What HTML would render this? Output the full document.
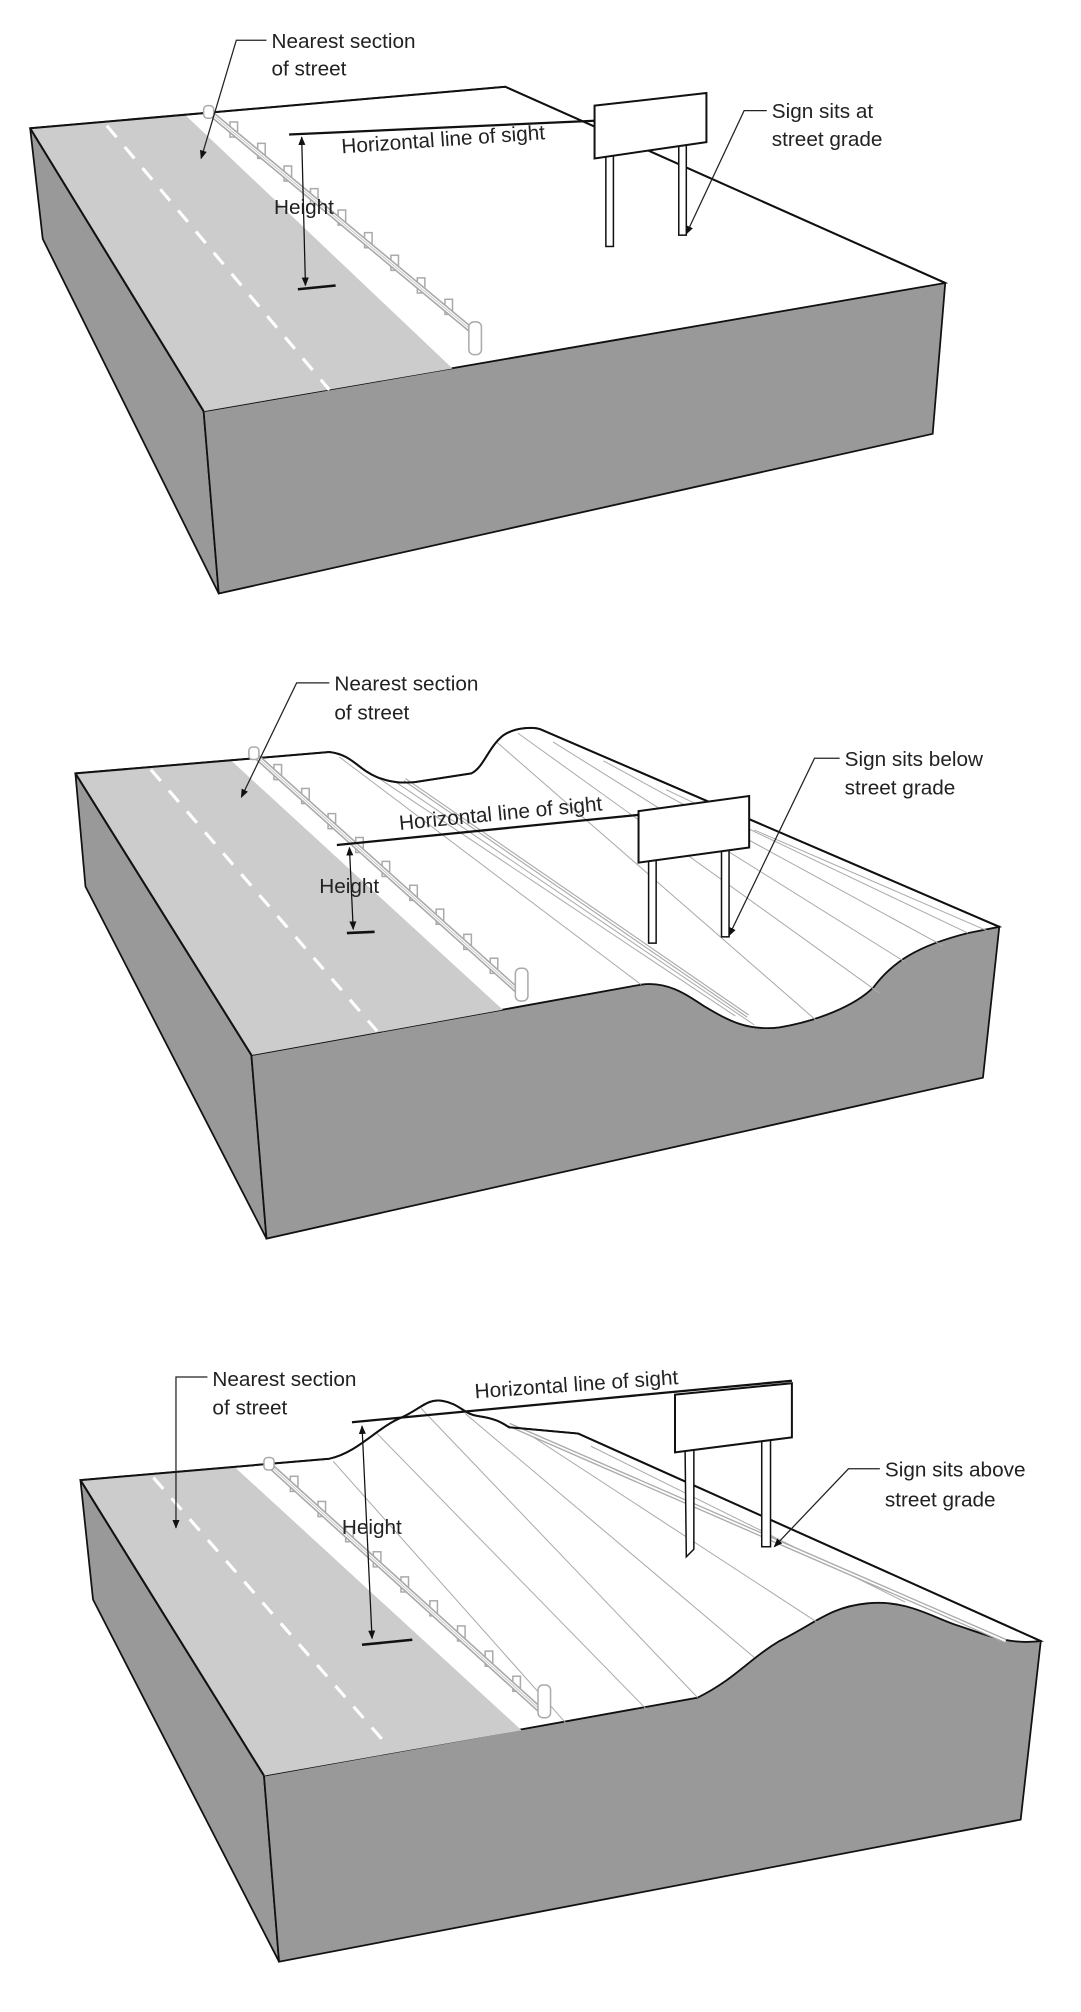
<!DOCTYPE html>
<html><head><meta charset="utf-8"><style>
html,body{margin:0;padding:0;background:#fff;}
svg{display:block}
text{font-family:"Liberation Sans",sans-serif;font-size:16.5px;fill:#222}
.e{stroke:#111;stroke-width:1.6;fill:none}
.f{stroke:#111;stroke-width:1.4}
.rail{stroke:#aaa;stroke-width:5;stroke-linecap:round}
.rail2{stroke:#fff;stroke-width:2.4}
.rail3{stroke:#bbb;stroke-width:.6}
.post{fill:#fff;stroke:#aaa;stroke-width:1.2}
.slope{stroke:#aaa;stroke-width:.8;fill:none}
.lead{stroke:#222;stroke-width:1;fill:none}
</style></head><body>
<svg width="1081" height="2012" viewBox="0 0 860 1600" preserveAspectRatio="none" xmlns="http://www.w3.org/2000/svg">
<defs>
<marker id="a" viewBox="0 0 10 10" refX="9" refY="5" markerWidth="7" markerHeight="7" orient="auto-start-reverse"><path d="M0,1 L10,5 L0,9 z" fill="#111"/></marker>
</defs>

<!-- ===== BLOCK 1 ===== -->
<polygon points="24,102 34,190 174,472 162,327" fill="#999" class="f"/>
<polygon points="162,327 752,225 742,345 174,472" fill="#999" class="f"/>
<polygon points="24,102 402,69 752,225 162,327" fill="#fff" class="f"/>
<polygon points="24,102 148,92 360,293 162,327" fill="#ccc"/>
<line x1="85" y1="100" x2="262" y2="310" stroke="#fff" stroke-width="2.5" stroke-dasharray="12,10"/>
<polyline points="24,102 402,69 752,225" class="e"/>
<line x1="24" y1="102" x2="162" y2="327" class="e"/>
<g>
<rect x="183" y="97" width="6" height="12" class="post"/><rect x="205" y="114" width="6" height="12" class="post"/><rect x="226" y="132" width="6" height="12" class="post"/><rect x="247" y="150" width="6" height="12" class="post"/><rect x="269" y="167" width="6" height="12" class="post"/><rect x="290" y="185" width="6" height="12" class="post"/><rect x="311" y="203" width="6" height="12" class="post"/><rect x="332" y="221" width="6" height="12" class="post"/><rect x="354" y="238" width="6" height="12" class="post"/>
<line x1="165" y1="88" x2="378" y2="265" class="rail"/><line x1="165" y1="88" x2="378" y2="265" class="rail2"/><line x1="165" y1="88" x2="378" y2="265" class="rail3"/>
<rect x="373" y="256" width="10" height="26" rx="4" class="post"/>
<rect x="162" y="84" width="8" height="10" rx="3" class="post"/>
</g>
<line x1="230" y1="107" x2="473" y2="96" stroke="#111" stroke-width="1.8"/>
<line x1="240" y1="109" x2="243" y2="227" stroke="#111" stroke-width="1" marker-start="url(#a)" marker-end="url(#a)"/>
<line x1="237" y1="230" x2="267" y2="227" stroke="#111" stroke-width="2"/>
<text x="218" y="170">Height</text>
<text x="272" y="122" transform="rotate(-4 272 122)">Horizontal line of sight</text>
<rect x="482" y="120" width="6" height="76" fill="#fff" stroke="#111" stroke-width="1.2"/>
<rect x="540" y="112" width="6" height="75" fill="#fff" stroke="#111" stroke-width="1.2"/>
<polygon points="473,84 562,74 562,113 473,126" fill="#fff" stroke="#111" stroke-width="1.6"/>
<text x="216" y="38">Nearest section</text><text x="216" y="60">of street</text>
<polyline points="212,32 188,32 160,126" class="lead" marker-end="url(#a)"/>
<text x="614" y="94">Sign sits at</text><text x="614" y="116">street grade</text>
<polyline points="610,88 592,88 546,186" class="lead" marker-end="url(#a)"/>

<!-- ===== BLOCK 2 ===== -->
<polygon points="60,615 68,705 212,985 200,839" fill="#999" class="f"/>
<path d="M200,839 L510,783 C530,780 545,790 560,800 C580,812 595,820 620,817 C650,812 680,800 695,785 C710,765 730,752 770,742 L795,737 L782,857 L212,985 Z" fill="#999" class="f"/>
<path d="M60,615 L262,598 C280,600 285,612 300,618 C315,624 325,622 330,622 L375,615 C385,610 388,595 400,585 C410,578 425,578 430,580 L795,737 L770,742 C730,752 710,765 695,785 C680,800 650,812 620,817 C595,820 580,812 560,800 C545,790 530,780 510,783 L200,839 Z" fill="#fff" class="f"/>
<polygon points="60,615 183,604 400,803 200,839" fill="#ccc"/>
<line x1="120" y1="612" x2="300" y2="820" stroke="#fff" stroke-width="2.5" stroke-dasharray="12,10"/>
<g class="slope">
<line x1="270" y1="602" x2="510" y2="783"/>
<line x1="300" y1="618" x2="585" y2="808"/>
<line x1="315" y1="622" x2="600" y2="815"/>
<line x1="395" y1="590" x2="650" y2="812"/>
<line x1="412" y1="583" x2="700" y2="790"/>
<line x1="440" y1="590" x2="720" y2="765"/>
<line x1="480" y1="605" x2="750" y2="752"/>
<line x1="530" y1="628" x2="770" y2="742"/>
<line x1="600" y1="660" x2="785" y2="740"/>
</g>
<line x1="322" y1="620" x2="595" y2="808" stroke="#aaa" stroke-width="3"/>
<line x1="322" y1="620" x2="595" y2="808" stroke="#fff" stroke-width="1.2"/>
<path d="M60,615 L262,598 C280,600 285,612 300,618 C315,624 325,622 330,622 L375,615 C385,610 388,595 400,585 C410,578 425,578 430,580 L795,737" class="e"/>
<line x1="60" y1="615" x2="200" y2="839" class="e"/>
<g>
<rect x="218" y="608" width="6" height="12" class="post"/><rect x="240" y="627" width="6" height="12" class="post"/><rect x="261" y="647" width="6" height="12" class="post"/><rect x="283" y="666" width="6" height="12" class="post"/><rect x="304" y="685" width="6" height="12" class="post"/><rect x="326" y="704" width="6" height="12" class="post"/><rect x="347" y="723" width="6" height="12" class="post"/><rect x="369" y="743" width="6" height="12" class="post"/><rect x="390" y="762" width="6" height="12" class="post"/>
<line x1="200" y1="598" x2="412" y2="788" class="rail"/><line x1="200" y1="598" x2="412" y2="788" class="rail2"/><line x1="200" y1="598" x2="412" y2="788" class="rail3"/>
<rect x="410" y="770" width="10" height="26" rx="4" class="post"/>
<rect x="198" y="594" width="8" height="10" rx="3" class="post"/>
</g>
<line x1="268" y1="672" x2="508" y2="648" stroke="#111" stroke-width="1.8"/>
<line x1="278" y1="674" x2="281" y2="739" stroke="#111" stroke-width="1" marker-start="url(#a)" marker-end="url(#a)"/>
<line x1="276" y1="742" x2="298" y2="741" stroke="#111" stroke-width="2"/>
<text x="254" y="710">Height</text>
<text x="318" y="660" transform="rotate(-5.5 318 660)">Horizontal line of sight</text>
<rect x="516" y="680" width="6" height="70" fill="#fff" stroke="#111" stroke-width="1.2"/>
<rect x="574" y="670" width="6" height="75" fill="#fff" stroke="#111" stroke-width="1.2"/>
<polygon points="508,645 596,633 596,674 508,686" fill="#fff" stroke="#111" stroke-width="1.6"/>
<text x="266" y="549">Nearest section</text><text x="266" y="572">of street</text>
<polyline points="262,543 236,543 192,634" class="lead" marker-end="url(#a)"/>
<text x="672" y="609">Sign sits below</text><text x="672" y="632">street grade</text>
<polyline points="668,603 648,603 580,744" class="lead" marker-end="url(#a)"/>

<!-- ===== BLOCK 3 ===== -->
<polygon points="64,1177 74,1272 222,1560 210,1412" fill="#999" class="f"/>
<path d="M210,1412 L555,1350 C585,1335 595,1320 620,1305 C650,1290 660,1278 690,1275 C720,1272 740,1285 760,1292 C785,1300 800,1308 828,1305 L812,1447 L222,1560 Z" fill="#999" class="f"/>
<path d="M64,1177 L262,1160 C285,1155 300,1135 320,1127 C335,1120 340,1112 352,1114 C365,1116 370,1125 380,1126 C395,1128 400,1132 405,1135 L460,1140 L828,1305 C800,1308 785,1300 760,1292 C740,1285 720,1272 690,1275 C660,1278 650,1290 620,1305 C595,1320 585,1335 555,1350 L210,1412 Z" fill="#fff" class="f"/>
<polygon points="64,1177 186,1166 415,1376 210,1412" fill="#ccc"/>
<line x1="122" y1="1175" x2="310" y2="1390" stroke="#fff" stroke-width="2.5" stroke-dasharray="12,10"/>
<g class="slope">
<line x1="265" y1="1162" x2="450" y2="1370"/>
<line x1="300" y1="1140" x2="515" y2="1360"/>
<line x1="335" y1="1120" x2="555" y2="1350"/>
<line x1="370" y1="1124" x2="600" y2="1318"/>
<line x1="420" y1="1140" x2="650" y2="1290"/>
<line x1="470" y1="1150" x2="720" y2="1274"/>
</g>
<line x1="405" y1="1133" x2="800" y2="1305" stroke="#aaa" stroke-width="3.5"/>
<line x1="405" y1="1133" x2="800" y2="1305" stroke="#fff" stroke-width="1.4"/>
<path d="M64,1177 L262,1160 C285,1155 300,1135 320,1127 C335,1120 340,1112 352,1114 C365,1116 370,1125 380,1126 C395,1128 400,1132 405,1135 L460,1140 L828,1305" class="e"/>
<line x1="64" y1="1177" x2="210" y2="1412" class="e"/>
<g>
<rect x="231" y="1174" width="6" height="12" class="post"/><rect x="253" y="1194" width="6" height="12" class="post"/><rect x="275" y="1214" width="6" height="12" class="post"/><rect x="297" y="1234" width="6" height="12" class="post"/><rect x="319" y="1254" width="6" height="12" class="post"/><rect x="342" y="1273" width="6" height="12" class="post"/><rect x="364" y="1293" width="6" height="12" class="post"/><rect x="386" y="1313" width="6" height="12" class="post"/><rect x="408" y="1333" width="6" height="12" class="post"/>
<line x1="212" y1="1163" x2="430" y2="1360" class="rail"/><line x1="212" y1="1163" x2="430" y2="1360" class="rail2"/><line x1="212" y1="1163" x2="430" y2="1360" class="rail3"/>
<rect x="428" y="1340" width="10" height="26" rx="4" class="post"/>
<rect x="210" y="1159" width="8" height="10" rx="3" class="post"/>
</g>
<line x1="280" y1="1131" x2="630" y2="1098" stroke="#111" stroke-width="1.8"/>
<line x1="288" y1="1134" x2="296" y2="1303" stroke="#111" stroke-width="1" marker-start="url(#a)" marker-end="url(#a)"/>
<line x1="288" y1="1308" x2="328" y2="1304" stroke="#111" stroke-width="2"/>
<text x="272" y="1220">Height</text>
<text x="378" y="1112" transform="rotate(-4 378 1112)">Horizontal line of sight</text>
<polygon points="545,1150 552,1150 552,1232 546,1238" fill="#fff" stroke="#111" stroke-width="1.2"/>
<rect x="606" y="1142" width="7" height="88" fill="#fff" stroke="#111" stroke-width="1.2"/>
<polygon points="537,1109 630,1100 630,1143 537,1155" fill="#fff" stroke="#111" stroke-width="1.6"/>
<text x="169" y="1102">Nearest section</text><text x="169" y="1125">of street</text>
<polyline points="165,1095 140,1095 140,1215" class="lead" marker-end="url(#a)"/>
<text x="704" y="1174">Sign sits above</text><text x="704" y="1198">street grade</text>
<polyline points="700,1168 675,1168 616,1230" class="lead" marker-end="url(#a)"/>
</svg>
</body></html>
